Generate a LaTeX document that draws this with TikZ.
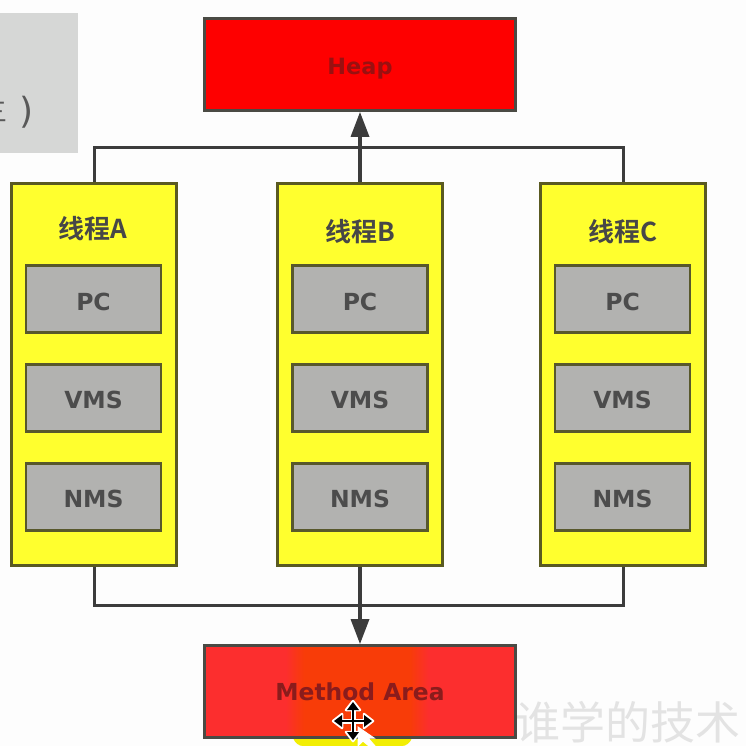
\documentclass[tikz,border=0pt]{standalone}
\usepackage{fontspec}
\setmainfont{DejaVu Sans}
\newfontfamily\cjk{Noto Sans CJK SC}[BoldFont={Noto Sans CJK SC Bold}]
\usetikzlibrary{arrows.meta,calc}
\definecolor{bgc}{HTML}{FDFDFD}
\definecolor{edge}{HTML}{4A4A44}
\definecolor{wirec}{HTML}{3C3C3C}
\definecolor{heapred}{HTML}{FE0000}
\definecolor{mared}{HTML}{FC2E2E}
\definecolor{maor}{HTML}{F83C08}
\definecolor{thy}{HTML}{FFFF2E}
\definecolor{inner}{HTML}{B2B2B0}
\definecolor{panel}{HTML}{D6D7D6}
\definecolor{heaptext}{HTML}{9A1010}
\definecolor{areatextc}{HTML}{8A1C1C}
\pgfdeclarehorizontalshading{mashade}{100bp}{color(0bp)=(mared); color(38bp)=(mared); color(41bp)=(maor); color(58bp)=(maor); color(61bp)=(mared); color(100bp)=(mared)}
\newcommand{\lowered}[2]{\raisebox{-#1}[\height][\depth]{#2}}
\tikzset{
  big/.style={draw=edge,line width=2.8pt,minimum width=311pt,minimum height=92pt,inner sep=0pt,font=\bfseries\fontsize{22.4}{24}\selectfont,text=heaptext},
  thread/.style={draw=edge!70!yellow!70!black,fill=thy,line width=2.8pt,minimum width=165pt,minimum height=382pt,inner sep=0pt},
  reg/.style={draw=edge!80!yellow!80!black,fill=inner,line width=2.8pt,minimum width=135pt,minimum height=67pt,inner sep=0pt,font=\bfseries\fontsize{23.5}{24}\selectfont,text=black!70},
  title/.style={inner sep=0pt,font=\cjk\bfseries\fontsize{26}{28}\selectfont,text=black!72},
  wire/.style={draw=wirec,line width=3pt},
  tip/.style={wire,-{Triangle[length=25pt,width=18pt]}},
  wmark/.style={inner sep=0pt,font=\cjk\fontsize{45}{50}\selectfont,text=black!11},
}
\begin{document}
\begin{tikzpicture}[x=1pt,y=-1pt]
\useasboundingbox (0,0) rectangle (746,746);
\fill[bgc] (0,0) rectangle (746,746);
% grey panel at the left
\fill[panel] (0,13) rectangle (78,153);
\node[inner sep=0pt,font=\fontsize{36}{40}\selectfont,text=black!65] (paren) at (27,112) {)};
\node[inner sep=0pt,font=\cjk\fontsize{26}{30}\selectfont,text=black!65] (cutchar) at (-5,112) {三};
% watermark and yellow patch
\node[wmark] (wm) at (628,722) {谁学的技术};
\fill[yellow!95!green] (293,738) -- (412,738) .. controls (410,743) and (406,746) .. (402,746) -- (303,746) .. controls (299,746) and (295,743) .. (293,738) -- cycle;
% boxes
\node[big,fill=heapred] (heap) at (360,64.5) {\lowered{4pt}{Heap}};
\node[big,shading=mashade] (area) at (360,691.5) {};
\node[inner sep=0pt,font=\bfseries\fontsize{23.4}{24}\selectfont,text=areatextc] (areatext) at (360,692) {Method Area};
\node[thread] (A) at (94,374.5) {};
\node[thread] (B) at (360,374.5) {};
\node[thread] (C) at (623,374.5) {};
\node[title] (ta) at (93,229) {线程A};
\node[title] (tb) at (360,232) {线程B};
\node[title] (tc) at (623,232) {线程C};
\foreach \n/\x in {A/93.5,B/360,C/622.5}{
  \node[reg] (\n pc) at (\x,299) {\lowered{3pt}{PC}};
  \node[reg] (\n vms) at (\x,398) {\lowered{2pt}{VMS}};
  \node[reg] (\n nms) at (\x,497) {\lowered{2pt}{NMS}};
}
% connectors
\coordinate (topbus) at (360,148);
\coordinate (botbus) at (360,605);
\draw[wire] (A.north) -- (A.north |- topbus) -- (C.north |- topbus) -- (C.north);
\draw[wire] (A.south) -- (A.south |- botbus) -- (C.south |- botbus) -- (C.south);
\draw[tip,line width=3.4pt] (B.north) -- (heap.south);
\draw[tip,line width=3.4pt] (B.south) -- (area.north);
% mouse cursor
\fill[white,draw=white,line width=1pt] (358,727) -- (358,746) -- (363,741) -- (369,746) -- (375,746) -- (368,738) -- (374,738) -- cycle;
\foreach \a in {0,90,180,270}{
  \begin{scope}[shift={(353,721)},rotate=\a]
    \draw[white,line width=5pt,line cap=round] (0,0) -- (15,0);
    \fill[white,draw=white,line width=2.5pt,line join=round] (11,-7) -- (20,0) -- (11,7) -- cycle;
  \end{scope}
}
\foreach \a in {0,90,180,270}{
  \begin{scope}[shift={(353,721)},rotate=\a]
    \draw[black,line width=2pt] (0,0) -- (14,0);
    \fill[black] (11,-6) -- (19,0) -- (11,6) -- cycle;
  \end{scope}
}
\end{tikzpicture}
\end{document}
